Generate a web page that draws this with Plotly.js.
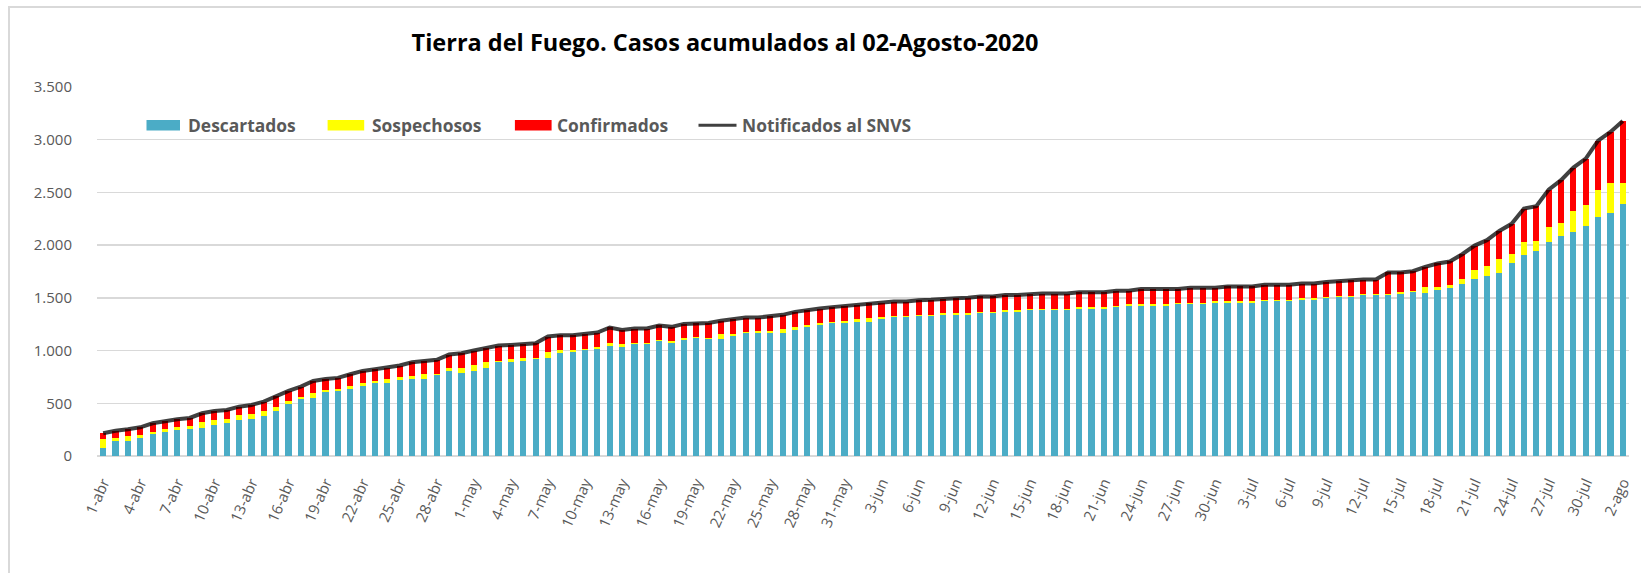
<!DOCTYPE html>
<html>
<head>
<meta charset="utf-8">
<script src="https://cdn.plot.ly/plotly-3.0.1.min.js"></script>
<style>
  html, body { margin: 0; padding: 0; background: #ffffff; }
  #wrap { position: relative; width: 1641px; height: 573px; overflow: hidden; }
  #chart { position: absolute; left: 0; top: 0; width: 1641px; height: 573px; }
  #frame { position: absolute; left: 8px; top: 6px; width: 1700px; height: 700px;
           border-left: 2px solid #d9d9d9; border-top: 2px solid #d9d9d9; pointer-events: none; }
</style>
</head>
<body>
<div id="wrap">
  <div id="chart"></div>
  <div id="frame"></div>
</div>
<script>
// ---- categories (dates) ----
const fechas = [
  "1-abr","2-abr","3-abr","4-abr","5-abr","6-abr","7-abr","8-abr","9-abr","10-abr",
  "11-abr","12-abr","13-abr","14-abr","15-abr","16-abr","17-abr","18-abr","19-abr","20-abr",
  "21-abr","22-abr","23-abr","24-abr","25-abr","26-abr","27-abr","28-abr","29-abr","30-abr",
  "1-may","2-may","3-may","4-may","5-may","6-may","7-may","8-may","9-may","10-may",
  "11-may","12-may","13-may","14-may","15-may","16-may","17-may","18-may","19-may","20-may",
  "21-may","22-may","23-may","24-may","25-may","26-may","27-may","28-may","29-may","30-may","31-may",
  "1-jun","2-jun","3-jun","4-jun","5-jun","6-jun","7-jun","8-jun","9-jun","10-jun",
  "11-jun","12-jun","13-jun","14-jun","15-jun","16-jun","17-jun","18-jun","19-jun","20-jun",
  "21-jun","22-jun","23-jun","24-jun","25-jun","26-jun","27-jun","28-jun","29-jun","30-jun",
  "1-jul","2-jul","3-jul","4-jul","5-jul","6-jul","7-jul","8-jul","9-jul","10-jul",
  "11-jul","12-jul","13-jul","14-jul","15-jul","16-jul","17-jul","18-jul","19-jul","20-jul",
  "21-jul","22-jul","23-jul","24-jul","25-jul","26-jul","27-jul","28-jul","29-jul","30-jul","31-jul",
  "1-ago","2-ago"
];

// ---- series ----
const descartados = [
  73,142,142,174,212,228,244,260,269,297,
  313,342,354,383,427,497,538,554,611,620,
  636,665,696,696,725,734,734,766,807,791,
  807,836,893,889,905,921,934,975,991,1003,
  1019,1048,1032,1060,1060,1089,1076,1105,1116,1108,
  1114,1143,1162,1171,1171,1171,1196,1228,1244,1257,
  1257,1272,1272,1301,1317,1317,1329,1329,1342,1342,
  1342,1358,1358,1370,1370,1386,1386,1386,1386,1399,
  1399,1399,1412,1427,1427,1427,1427,1440,1440,1440,
  1456,1456,1456,1456,1469,1469,1469,1484,1484,1497,
  1510,1510,1523,1523,1523,1538,1551,1548,1576,1592,
  1633,1677,1706,1734,1832,1902,1946,2031,2085,2126,
  2183,2268,2309,2391
];

const sospechosos = [
  85,32,48,25,13,32,28,28,54,45,
  41,44,45,47,38,28,19,41,16,19,
  32,31,19,32,28,29,45,16,32,45,
  57,57,12,29,29,13,57,28,12,13,
  13,25,28,13,13,12,13,12,16,12,
  44,15,12,16,16,29,32,16,13,15,
  28,29,41,16,12,12,13,13,16,13,
  16,12,12,16,16,13,13,13,13,13,
  16,13,15,13,13,13,13,13,13,13,
  13,13,13,13,12,12,12,13,13,13,
  9,9,12,12,12,16,13,57,29,29,
  44,86,98,139,85,126,95,139,126,199,
  196,253,281,196
];

const confirmados = [
  57,66,63,73,85,72,76,73,82,85,
  83,82,85,86,105,92,101,117,104,102,
  107,111,108,111,105,126,123,130,123,139,
  136,129,143,136,126,136,142,143,143,142,
  139,146,136,136,136,137,136,136,128,142,
  124,140,139,126,139,139,139,142,142,140,
  139,136,137,136,136,136,136,139,133,142,
  142,143,143,140,140,139,142,142,142,142,
  139,142,140,127,143,143,143,130,142,142,
  126,139,139,139,143,143,143,139,139,140,
  139,149,139,139,206,187,189,189,221,224,
  237,233,243,262,285,319,328,357,405,411,
  442,471,484,591
];

const notificados = [
  215,240,253,272,310,332,348,361,405,427,
  437,468,484,516,570,617,658,712,731,741,
  775,807,823,839,858,889,902,912,962,975,
  1000,1022,1048,1054,1060,1070,1133,1146,1146,1158,
  1171,1219,1196,1209,1209,1238,1225,1253,1260,1262,
  1282,1298,1313,1313,1326,1339,1367,1386,1399,1412,
  1424,1437,1450,1453,1465,1465,1478,1481,1491,1497,
  1500,1513,1513,1526,1526,1538,1541,1541,1541,1554,
  1554,1554,1567,1567,1583,1583,1583,1583,1595,1595,
  1595,1608,1608,1608,1624,1624,1624,1636,1636,1650,
  1658,1668,1674,1674,1741,1741,1753,1794,1826,1845,
  1914,1996,2047,2135,2202,2347,2369,2527,2616,2736,
  2821,2992,3074,3178
];

const seriesNames = ["Descartados", "Sospechosos", "Confirmados", "Notificados al SNVS"];
const seriesColors = ["#4BACC6", "#FFFF00", "#FF0000", "rgba(0,0,0,0.75)"];
const titulo = "Tierra del Fuego. Casos acumulados al 02-Agosto-2020";

// ---- layout geometry helpers (plot area in pixels) ----
const W = 1641, H = 573;
const M = { l: 97, r: 12, t: 87, b: 117 };
const PW = W - M.l - M.r, PH = H - M.t - M.b;
const px = x => (x - M.l) / PW;
const py = y => (H - M.b - y) / PH;

const traces = [
  { type: "bar", name: seriesNames[0], x: fechas, y: descartados, marker: { color: seriesColors[0] } },
  { type: "bar", name: seriesNames[1], x: fechas, y: sospechosos, marker: { color: seriesColors[1] } },
  { type: "bar", name: seriesNames[2], x: fechas, y: confirmados, marker: { color: seriesColors[2] } },
  { type: "scatter", mode: "lines", name: seriesNames[3], x: fechas, y: notificados,
    line: { color: seriesColors[3], width: 4 } }
];

// manual legend
const legY = 125.3;
const legItems = [
  { x0: 146.5, x1: 180, tx: 186, kind: "rect" },
  { x0: 327.6, x1: 364.2, tx: 369.5, kind: "rect" },
  { x0: 514.9, x1: 551.6, tx: 555, kind: "rect" },
  { x0: 698.5, x1: 736.5, tx: 740, kind: "line" }
];
const shapes = [];
const annotations = [];
legItems.forEach((it, i) => {
  if (it.kind === "rect") {
    shapes.push({ type: "rect", xref: "paper", yref: "paper",
      x0: px(it.x0), x1: px(it.x1), y0: py(legY + 5.3), y1: py(legY - 5.3),
      fillcolor: seriesColors[i], line: { width: 0 } });
  } else {
    shapes.push({ type: "line", xref: "paper", yref: "paper",
      x0: px(it.x0), x1: px(it.x1), y0: py(legY), y1: py(legY),
      line: { color: "#404040", width: 3 } });
  }
  annotations.push({ xref: "paper", yref: "paper", x: px(it.tx), y: py(legY),
    xanchor: "left", yanchor: "middle", showarrow: false, text: "<b>" + seriesNames[i] + "</b>",
    font: { family: "Open Sans", size: 17.4, color: "#595959" } });
});

const layout = {
  width: W, height: H,
  margin: M,
  barmode: "stack",
  bargap: 0.5,
  showlegend: false,
  paper_bgcolor: "#ffffff",
  plot_bgcolor: "#ffffff",
  separators: ",.",
  title: { text: "<b>" + titulo + "</b>", xref: "container", yref: "container",
           x: 725 / W, y: 1 - 43 / H, xanchor: "center", yanchor: "middle",
           font: { family: "Open Sans", size: 23.5, color: "#000000" } },
  xaxis: {
    type: "category",
    tickmode: "linear", tick0: 0, dtick: 3,
    tickangle: -66,
    tickfont: { family: "Open Sans", size: 15, color: "#595959" },
    showgrid: false, showline: false, zeroline: false,
    ticks: "", ticklabelstandoff: 14,
    range: [-0.5, fechas.length - 0.5]
  },
  yaxis: {
    range: [0, 3500], dtick: 500, tick0: 0,
    tickformat: ",d",
    tickfont: { family: "Open Sans", size: 15, color: "#595959" },
    gridcolor: "#d9d9d9", gridwidth: 1.3,
    zeroline: true, zerolinecolor: "#d9d9d9", zerolinewidth: 1.3,
    showline: false, ticks: "", ticklabelstandoff: 24
  },
  shapes: shapes,
  annotations: annotations
};

Plotly.newPlot("chart", traces, layout, { displayModeBar: false, staticPlot: true });
</script>
</body>
</html>
